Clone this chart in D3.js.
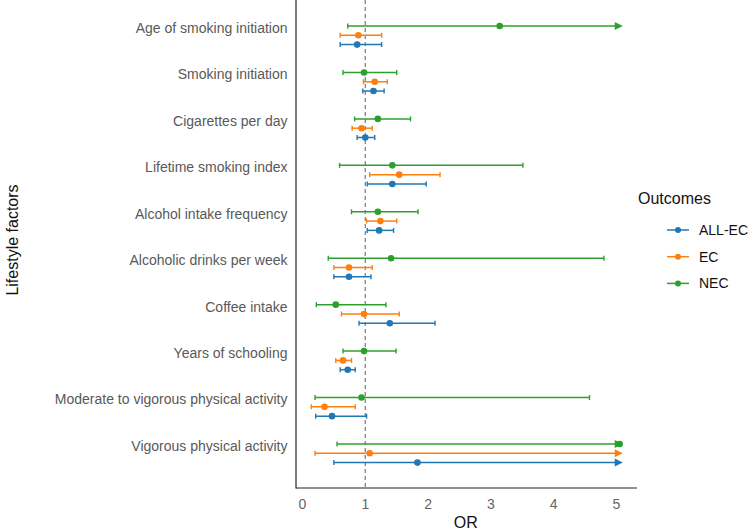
<!DOCTYPE html>
<html>
<head>
<meta charset="utf-8">
<script src="https://cdn.jsdelivr.net/npm/d3@7"></script>
<style>
  body { margin: 0; background: #fff; }
  svg { font-family: "Liberation Sans", Arial, sans-serif; }
</style>
</head>
<body>
<svg id="chart" width="749" height="531"></svg>
<script>
// Facteurs (ordre de haut en bas)
const factors = [
  "Age of smoking initiation",
  "Smoking initiation",
  "Cigarettes per day",
  "Lifetime smoking index",
  "Alcohol intake frequency",
  "Alcoholic drinks per week",
  "Coffee intake",
  "Years of schooling",
  "Moderate to vigorous physical activity",
  "Vigorous physical activity"
];
const outcomes = ["ALL-EC", "EC", "NEC"];
const colors = ["#1f77b4", "#ff7f0e", "#2ca02c"];
const xTicks = [0, 1, 2, 3, 4, 5];

// OR, borne basse, borne haute
const orAll = [0.87, 1.13, 1.00, 1.43, 1.22, 0.74, 1.39, 0.72, 0.47, 1.83];
const loAll = [0.60, 0.96, 0.87, 1.03, 1.03, 0.50, 0.90, 0.60, 0.21, 0.50];
const hiAll = [1.26, 1.30, 1.15, 1.97, 1.45, 1.09, 2.11, 0.84, 1.02, 6.80];

const orEC = [0.89, 1.15, 0.94, 1.54, 1.24, 0.74, 0.98, 0.645, 0.35, 1.07];
const loEC = [0.60, 0.97, 0.79, 1.07, 1.02, 0.50, 0.62, 0.53, 0.14, 0.20];
const hiEC = [1.26, 1.35, 1.11, 2.19, 1.50, 1.11, 1.54, 0.78, 0.84, 5.90];

const orNEC = [3.14, 0.98, 1.20, 1.43, 1.20, 1.41, 0.53, 0.98, 0.94, 5.20];
const loNEC = [0.72, 0.645, 0.83, 0.59, 0.78, 0.41, 0.22, 0.645, 0.20, 0.55];
const hiNEC = [13.5, 1.50, 1.72, 3.51, 1.84, 4.80, 1.33, 1.49, 4.57, 40.0];

const xMax = 5.1; // limite d'affichage : au-delà, flèche

const series = [
  { name: "NEC", color: colors[2], or: orNEC, lo: loNEC, hi: hiNEC, dy: 0 },
  { name: "EC", color: colors[1], or: orEC, lo: loEC, hi: hiEC, dy: 9.3 },
  { name: "ALL-EC", color: colors[0], or: orAll, lo: loAll, hi: hiAll, dy: 18.6 }
];

const svg = d3.select("#chart");

const x = d3.scaleLinear().domain([0, 5]).range([302.5, 616.5]);
const y = d3.scalePoint().domain(factors).range([26, 444]);

const panel = { left: 296, right: 637, top: 0, bottom: 488 };

// Ligne de référence OR = 1
svg.append("line")
  .attr("x1", x(1)).attr("x2", x(1))
  .attr("y1", panel.top).attr("y2", panel.bottom)
  .attr("stroke", "#8c8c8c")
  .attr("stroke-width", 1.4)
  .attr("stroke-dasharray", "4,3");

// Barres d'erreur
series.forEach(function (s) {
  const g = svg.append("g");
  factors.forEach(function (f, i) {
    const yy = y(f) + s.dy;
    const lo = Math.min(s.lo[i], xMax);
    const hi = Math.min(s.hi[i], xMax);
    const pt = Math.min(s.or[i], 5.05);
    const arrow = s.hi[i] > xMax;
    const xEnd = arrow ? x(hi) - 7 : x(hi);

    g.append("line")
      .attr("x1", x(lo)).attr("x2", xEnd)
      .attr("y1", yy).attr("y2", yy)
      .attr("stroke", s.color).attr("stroke-width", 1.5);

    g.append("line")
      .attr("x1", x(lo)).attr("x2", x(lo))
      .attr("y1", yy - 2.5).attr("y2", yy + 2.5)
      .attr("stroke", s.color).attr("stroke-width", 1.4);

    if (arrow) {
      g.append("path")
        .attr("d", `M${x(hi)},${yy} L${x(hi) - 8},${yy - 4} L${x(hi) - 8},${yy + 4} Z`)
        .attr("fill", s.color);
    } else {
      g.append("line")
        .attr("x1", x(hi)).attr("x2", x(hi))
        .attr("y1", yy - 2.5).attr("y2", yy + 2.5)
        .attr("stroke", s.color).attr("stroke-width", 1.4);
    }

    g.append("circle")
      .attr("cx", x(pt)).attr("cy", yy).attr("r", 3.3)
      .attr("fill", s.color);
  });
});

// Axes
svg.append("line")
  .attr("x1", panel.left).attr("x2", panel.left)
  .attr("y1", panel.top).attr("y2", panel.bottom + 0.5)
  .attr("stroke", "#222").attr("stroke-width", 1.2);
svg.append("line")
  .attr("x1", panel.left).attr("x2", panel.right)
  .attr("y1", panel.bottom).attr("y2", panel.bottom)
  .attr("stroke", "#222").attr("stroke-width", 1.2);

svg.append("g").selectAll("text")
  .data(xTicks)
  .enter()
  .append("text")
  .attr("x", d => x(d))
  .attr("y", 509)
  .attr("text-anchor", "middle")
  .attr("font-size", 14)
  .attr("fill", "#666")
  .text(d => d);

svg.append("g").selectAll("text")
  .data(factors)
  .enter()
  .append("text")
  .attr("x", 287.5)
  .attr("y", d => y(d) + 2)
  .attr("dy", "0.35em")
  .attr("text-anchor", "end")
  .attr("font-size", 14)
  .attr("fill", "#595959")
  .text(d => d);

// Titres des axes
svg.append("text")
  .attr("x", x(2.6)).attr("y", 528)
  .attr("text-anchor", "middle")
  .attr("font-size", 16)
  .attr("fill", "#111")
  .text("OR");

svg.append("text")
  .attr("transform", "translate(18,240) rotate(-90)")
  .attr("text-anchor", "middle")
  .attr("font-size", 16)
  .attr("fill", "#111")
  .text("Lifestyle factors");

// Légende
const legend = svg.append("g");
legend.append("text")
  .attr("x", 638).attr("y", 204)
  .attr("font-size", 16)
  .attr("fill", "#111")
  .text("Outcomes");

outcomes.forEach(function (o, i) {
  const ly = 230 + i * 26.7;
  legend.append("line")
    .attr("x1", 667).attr("x2", 689)
    .attr("y1", ly).attr("y2", ly)
    .attr("stroke", colors[i]).attr("stroke-width", 1.5);
  legend.append("circle")
    .attr("cx", 678).attr("cy", ly).attr("r", 3)
    .attr("fill", colors[i]);
  legend.append("text")
    .attr("x", 699).attr("y", ly)
    .attr("dy", "0.35em")
    .attr("font-size", 14)
    .attr("fill", "#111")
    .text(o);
});
</script>
</body>
</html>
